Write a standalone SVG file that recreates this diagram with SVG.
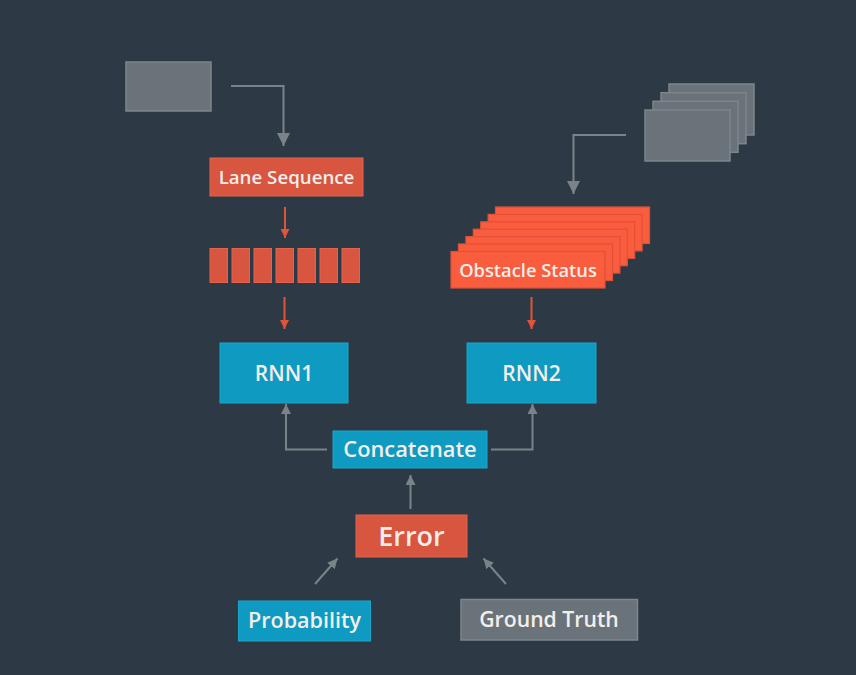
<svg xmlns="http://www.w3.org/2000/svg" width="856" height="675" viewBox="0 0 856 675">
<defs>
<style>
.bg{fill:#2d3a45}
.gray{fill:#6b737a;stroke:#7e858b;stroke-width:1.5}
.red{fill:#d8553f;stroke:#e4634c;stroke-width:1}
.orange{fill:#f95d3d;stroke:#df5139;stroke-width:1.2}
.blue{fill:#0e9ac1;stroke:#1aa7cd;stroke-width:1}
.t{font-family:"Open Sans","Noto Sans",sans-serif;font-weight:600;fill:#f4eeea;text-anchor:middle}
.cg{fill:none;stroke:#7b8389;stroke-width:2}
.cr{fill:none;stroke:#e0543c;stroke-width:2}
</style>
<marker id="ag" viewBox="0 0 10 10" refX="10" refY="5" markerWidth="6.5" markerHeight="6.5" markerUnits="strokeWidth" orient="auto"><path d="M0,0 L10,5 L0,10 z" fill="#7b8389"/></marker>
<marker id="agS" viewBox="0 0 10 10" refX="10" refY="5" markerWidth="5" markerHeight="5" markerUnits="strokeWidth" orient="auto"><path d="M0,0 L10,5 L0,10 z" fill="#7b8389"/></marker>
<marker id="ar" viewBox="0 0 10 10" refX="10" refY="5" markerWidth="4.5" markerHeight="4.5" markerUnits="strokeWidth" orient="auto"><path d="M0,0 L10,5 L0,10 z" fill="#e0543c"/></marker>
</defs>
<rect class="bg" x="0" y="0" width="856" height="675"/>

<g id="lane-input">
<rect class="gray" x="126" y="62" width="85" height="49"/>
</g>

<g id="obstacle-input">
<rect class="gray" x="669" y="84" width="85" height="51"/>
<rect class="gray" x="661" y="92.7" width="85" height="51"/>
<rect class="gray" x="653" y="101.3" width="85" height="51"/>
<rect class="gray" x="645" y="110" width="85" height="51"/>
</g>

<g id="lane-sequence">
<rect class="red" x="210" y="158" width="153" height="38"/>
<text class="t" x="286.5" y="183.5" font-size="18.7">Lane Sequence</text>
</g>

<g id="sequence-cells">
<rect class="red" x="210" y="248.5" width="17.5" height="34"/>
<rect class="red" x="232" y="248.5" width="17.5" height="34"/>
<rect class="red" x="254" y="248.5" width="17.5" height="34"/>
<rect class="red" x="276" y="248.5" width="17.5" height="34"/>
<rect class="red" x="298" y="248.5" width="17.5" height="34"/>
<rect class="red" x="320" y="248.5" width="17.5" height="34"/>
<rect class="red" x="342" y="248.5" width="17.5" height="34"/>
</g>

<g id="obstacle-status">
<rect class="orange" x="495.5" y="207" width="154" height="36.5"/>
<rect class="orange" x="488.1" y="214.4" width="154" height="36.5"/>
<rect class="orange" x="480.7" y="221.8" width="154" height="36.5"/>
<rect class="orange" x="473.3" y="229.2" width="154" height="36.5"/>
<rect class="orange" x="465.9" y="236.6" width="154" height="36.5"/>
<rect class="orange" x="458.5" y="244" width="154" height="36.5"/>
<rect class="orange" x="451" y="251.5" width="154" height="36.5"/>
<text class="t" x="528" y="276.5" font-size="18.3">Obstacle Status</text>
</g>

<g id="rnn1">
<rect class="blue" x="220" y="343" width="128" height="60"/>
<text class="t" x="284" y="380.5" font-size="21">RNN1</text>
</g>

<g id="rnn2">
<rect class="blue" x="467" y="343" width="129" height="60"/>
<text class="t" x="531.5" y="380.5" font-size="21">RNN2</text>
</g>

<g id="concatenate">
<rect class="blue" x="333" y="431" width="154" height="37"/>
<text class="t" x="410" y="457" font-size="21.8">Concatenate</text>
</g>

<g id="error">
<rect class="red" x="356" y="515" width="111" height="42"/>
<text class="t" x="411.5" y="545.5" font-size="27">Error</text>
</g>

<g id="probability">
<rect class="blue" x="238.5" y="601" width="132" height="40"/>
<text class="t" x="304.5" y="628" font-size="21.5">Probability</text>
</g>

<g id="ground-truth">
<rect class="gray" x="461" y="599.5" width="176.5" height="40.5"/>
<text class="t" x="549" y="627" font-size="21.2">Ground Truth</text>
</g>

<g id="connectors">
<path class="cg" d="M231,86 H283.5 V146" marker-end="url(#ag)"/>
<path class="cg" d="M626,135 H573.5 V194" marker-end="url(#ag)"/>
<path class="cr" d="M285,207 V238" marker-end="url(#ar)"/>
<path class="cr" d="M284.5,297 V329" marker-end="url(#ar)"/>
<path class="cr" d="M531.5,297 V329" marker-end="url(#ar)"/>
<path class="cg" d="M327,449.5 H286 V404" marker-end="url(#agS)"/>
<path class="cg" d="M491,449.5 H532.5 V404" marker-end="url(#agS)"/>
<path class="cg" d="M410.5,509 V475" marker-end="url(#agS)"/>
<path class="cg" d="M315,584 L337.5,558.5" marker-end="url(#agS)"/>
<path class="cg" d="M506,584 L483.5,558.5" marker-end="url(#agS)"/>
</g>
</svg>
